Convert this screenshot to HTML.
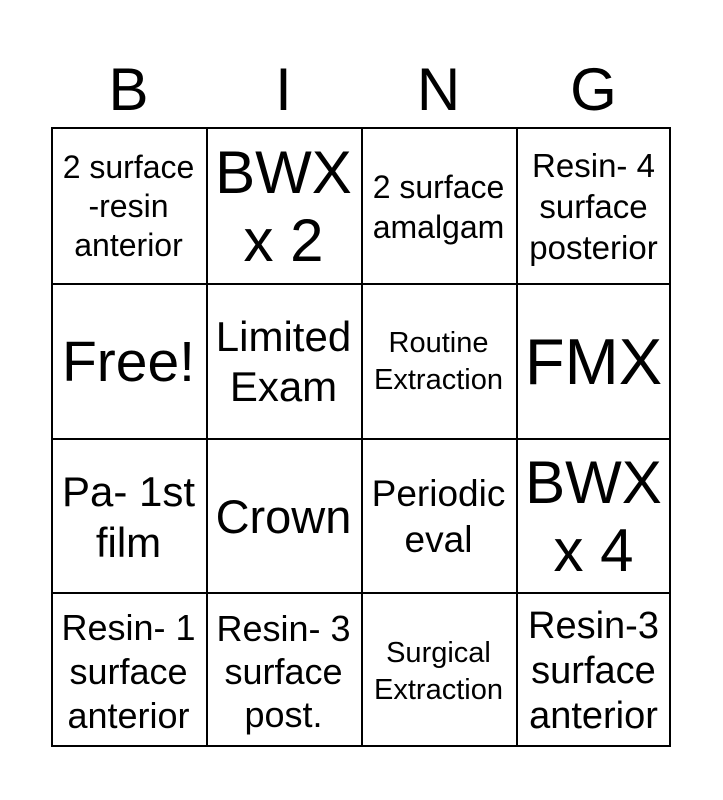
<!DOCTYPE html>
<html><head><style>
body{margin:0;width:723px;height:800px;background:#fff;font-family:Arial,"Liberation Sans",Helvetica,sans-serif;position:relative;overflow:hidden}
.h{position:absolute;top:55px;width:155px;text-align:center;font-size:60px;line-height:70px}
.g{position:absolute;left:51px;top:127px;width:620px;height:620px;border:2px solid #000;box-sizing:border-box}
.c{position:absolute;width:155px;height:155px;display:flex;align-items:center;justify-content:center;text-align:center;box-sizing:border-box;white-space:nowrap}
.v{position:absolute;top:0;height:100%;border-left:2px solid #000}
.r{position:absolute;left:0;width:100%;border-top:2px solid #000}
</style></head><body>
<div class="h" style="left:51px">B</div>
<div class="h" style="left:206px">I</div>
<div class="h" style="left:361px">N</div>
<div class="h" style="left:516px">G</div>
<div class="g">
<div class="v" style="left:153px"></div><div class="v" style="left:308px"></div><div class="v" style="left:463px"></div>
<div class="r" style="top:154px"></div><div class="r" style="top:309px"></div><div class="r" style="top:463px"></div>
<div class="c" style="left:-2px;top:0;font-size:32px;line-height:39px">2 surface<br>-resin<br>anterior</div>
<div class="c" style="left:153px;top:0;font-size:60px;line-height:68px">BWX<br>x 2</div>
<div class="c" style="left:308px;top:0;font-size:32px;line-height:40px">2 surface<br>amalgam</div>
<div class="c" style="left:463px;top:0;font-size:33px;line-height:41px">Resin- 4<br>surface<br>posterior</div>
<div class="c" style="left:-2px;top:155px;font-size:57px">Free!</div>
<div class="c" style="left:153px;top:155px;font-size:42px;line-height:50px">Limited<br>Exam</div>
<div class="c" style="left:308px;top:155px;font-size:29px;line-height:37px">Routine<br>Extraction</div>
<div class="c" style="left:463px;top:155px;font-size:65px">FMX</div>
<div class="c" style="left:-2px;top:310px;font-size:42px;line-height:51px">Pa- 1st<br>film</div>
<div class="c" style="left:153px;top:310px;font-size:47px">Crown</div>
<div class="c" style="left:308px;top:310px;font-size:37px;line-height:46px">Periodic<br>eval</div>
<div class="c" style="left:463px;top:310px;font-size:60px;line-height:68px">BWX<br>x 4</div>
<div class="c" style="left:-2px;top:465px;font-size:36px;line-height:44px">Resin- 1<br>surface<br>anterior</div>
<div class="c" style="left:153px;top:465px;font-size:36px;line-height:43px">Resin- 3<br>surface<br>post.</div>
<div class="c" style="left:308px;top:465px;font-size:29px;line-height:37px">Surgical<br>Extraction</div>
<div class="c" style="left:463px;top:465px;font-size:38px;line-height:45px">Resin-3<br>surface<br>anterior</div>
</div>
</body></html>
